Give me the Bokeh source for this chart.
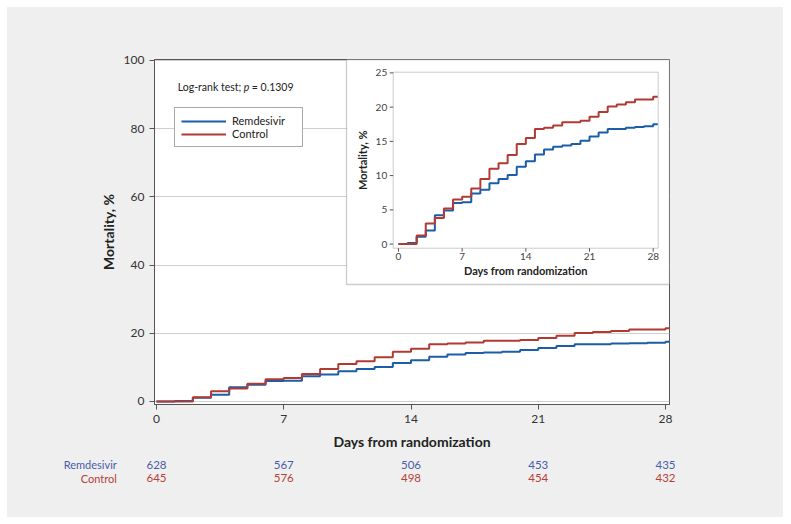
import math
from bokeh.plotting import figure
from bokeh.layouts import column
from bokeh.models import Range1d, Label, Legend, BoxAnnotation, FixedTicker
from bokeh.core.properties import value
from bokeh.embed import file_html
from bokeh.resources import INLINE

# ---------------- data ----------------
DAYS = list(range(29)) + [28.5]          # day of event; 28.5 = end of follow-up
REMDESIVIR = [0, 0.15, 1.07, 2.0, 4.2, 4.9, 6.0, 6.1, 7.4, 7.95, 8.9, 9.5, 10.1, 11.3,
              12.1, 13.1, 13.8, 14.2, 14.4, 14.6, 15.1, 15.7, 16.3, 16.8, 16.8, 17.0,
              17.1, 17.2, 17.5, 17.5]
CONTROL = [0, 0, 1.27, 3.0, 3.8, 5.2, 6.5, 6.9, 8.1, 9.5, 11.0, 11.8, 13.0, 14.6,
           15.5, 16.8, 17.0, 17.3, 17.8, 17.8, 18.0, 18.6, 19.3, 20.1, 20.4, 20.7,
           21.1, 21.1, 21.5, 21.5]
X_TICKS = [0, 7, 14, 21, 28]
MAIN_Y_TICKS = [0, 20, 40, 60, 80, 100]
INSET_Y_TICKS = [0, 5, 10, 15, 20, 25]
AT_RISK_REMDESIVIR = [628, 567, 506, 453, 435]
AT_RISK_CONTROL = [645, 576, 498, 454, 432]
SERIES_NAMES = ["Remdesivir", "Control"]
P_VALUE = "0.1309"

# ---------------- style ----------------
FONT = "Lato"
BLUE = "#1b5ea7"
RED = "#b23a33"
BLUE_TXT = "#4a5ca8"
RED_TXT = "#b5413a"
AXIS = "#555555"
BG = "#eeefee"

W = 776
BL, BR, BT, BB = 147, 114, 52, 52
FW, FH = W - BL - BR, 345
H_MAIN = BT + FH + BB
H_RISK = 61

# main data ranges
MX = (-0.11, 28.22)
MY = (-0.88, 100.29)
PXD = FW / (MX[1] - MX[0])          # pixels per day
PYU = FH / (MY[1] - MY[0])          # pixels per % (main)

# inset: pixel box of its frame inside main frame (from frame top-left) and its data ranges
IN_L, IN_R, IN_T, IN_B = 238.7, 503.7, 12.7, 188.7
IX = (-0.58, 28.55)
IY = (-0.6, 25.1)
sxu = (IN_R - IN_L) / (IX[1] - IX[0])
syu = (IN_B - IN_T) / (IY[1] - IY[0])
ix_range = Range1d(IX[0] - IN_L / sxu, IX[1] + (FW - IN_R) / sxu)
iy_range = Range1d(IY[0] - (FH - IN_B) / syu, IY[1] + IN_T / syu)
BOX_L, BOX_B = 192, 225               # white inset panel edges (px from frame left / top)
box_left = ix_range.start + BOX_L / sxu
box_bottom = iy_range.end - BOX_B / syu

p = figure(width=W, height=H_MAIN, x_range=Range1d(*MX), y_range=Range1d(*MY),
           output_backend="svg", toolbar_location=None,
           min_border_left=BL, min_border_right=BR, min_border_top=BT, min_border_bottom=BB)
p.frame_align = False
p.extra_x_ranges = {"ix": ix_range}
p.extra_y_ranges = {"iy": iy_range}
p.border_fill_color = BG
p.background_fill_color = "white"
p.outline_line_color = AXIS
p.outline_line_width = 1

p.xgrid.visible = False
p.ygrid.grid_line_color = "#cfcfcf"
p.ygrid.grid_line_width = 1
p.xaxis.ticker = FixedTicker(ticks=X_TICKS)
p.yaxis.ticker = FixedTicker(ticks=MAIN_Y_TICKS)
for ax in (p.xaxis, p.yaxis):
    ax.axis_line_color = AXIS
    ax.major_tick_line_color = AXIS
    ax.minor_tick_line_color = None
    ax.major_tick_out = 5
    ax.major_tick_in = 0
    ax.major_label_text_font = FONT
    ax.major_label_text_font_size = "12px"
    ax.major_label_text_color = "#333333"
    ax.major_label_standoff = 5
    ax.axis_label_text_font = FONT
    ax.axis_label_text_font_style = "bold"
    ax.axis_label_text_font_size = "14px"
    ax.axis_label_text_color = "#222222"
p.yaxis.axis_label = "Mortality, %"
p.xaxis.axis_label = "Days from randomization"
p.yaxis.axis_label_standoff = 4
p.xaxis.axis_label_standoff = 7

# main curves
rb = p.step(DAYS, REMDESIVIR, mode="after", line_color=BLUE, line_width=2)
rr = p.step(DAYS, CONTROL, mode="after", line_color=RED, line_width=2)

# log-rank text
lx = MX[0] + 23.3 / PXD
ly = MY[1] - 27.5 / PYU
common = dict(x=lx, y=ly, text_font=FONT, text_font_size="10.5px", text_color="#222222",
              text_baseline="middle")
p.add_layout(Label(text="Log-rank test;", **common))
p.add_layout(Label(text="p", x_offset=66, text_font_style="italic", **common))
p.add_layout(Label(text="= " + P_VALUE, x_offset=74, **common))

legend = Legend(items=[(SERIES_NAMES[0], [rb]), (SERIES_NAMES[1], [rr])],
                location=(20, FH - 88),
                border_line_color=AXIS, border_line_width=1,
                background_fill_color="white", background_fill_alpha=1,
                label_text_font=FONT, label_text_font_size="11px", label_text_color="#222222",
                glyph_width=45, glyph_height=12, label_height=12, label_width=64,
                label_standoff=6, padding=6, spacing=0, margin=0)
p.add_layout(legend)

# ---------------- inset ----------------
p.add_layout(BoxAnnotation(left=box_left, bottom=box_bottom, x_range_name="ix", y_range_name="iy",
                           fill_color="white", fill_alpha=1, line_color=AXIS, line_width=1.3))
ins = dict(x_range_name="ix", y_range_name="iy", level="overlay")
p.step(DAYS, REMDESIVIR, mode="after", line_color=BLUE, line_width=2, **ins)
p.step(DAYS, CONTROL, mode="after", line_color=RED, line_width=2, **ins)
p.add_layout(BoxAnnotation(left=IX[0], right=IX[1], bottom=IY[0], top=IY[1],
                           x_range_name="ix", y_range_name="iy", level="overlay",
                           fill_alpha=0, line_color=AXIS, line_width=1))
tx = 3.5 / sxu
ty = 3.5 / syu
p.segment(x0=[IX[0] - tx] * len(INSET_Y_TICKS), y0=INSET_Y_TICKS,
          x1=[IX[0]] * len(INSET_Y_TICKS), y1=INSET_Y_TICKS, line_color=AXIS, line_width=1, **ins)
p.segment(x0=X_TICKS, y0=[IY[0] - ty] * len(X_TICKS), x1=X_TICKS, y1=[IY[0]] * len(X_TICKS),
          line_color=AXIS, line_width=1, **ins)
p.text(x=[IX[0] - 6 / sxu] * len(INSET_Y_TICKS), y=INSET_Y_TICKS,
       text=[str(v) for v in INSET_Y_TICKS], text_align="right", text_baseline="middle",
       text_font=value(FONT), text_font_size="10px", text_color="#444444", **ins)
p.text(x=X_TICKS, y=[IY[0] - 4.5 / syu] * len(X_TICKS),
       text=[str(v) for v in X_TICKS], text_align="center", text_baseline="top",
       text_font=value(FONT), text_font_size="10px", text_color="#444444", **ins)
p.text(x=[IX[0] - 31 / sxu], y=[(IY[0] + IY[1]) / 2], text=["Mortality, %"], angle=math.pi / 2,
       text_align="center", text_baseline="middle", text_font=value(FONT),
       text_font_size="11px", text_font_style="bold", text_color="#222222", **ins)
p.text(x=[(IX[0] + IX[1]) / 2], y=[IY[0] - 22.5 / syu], text=["Days from randomization"],
       text_align="center", text_baseline="middle", text_font=value(FONT),
       text_font_size="11px", text_font_style="bold", text_color="#222222", **ins)

# ---------------- numbers at risk (second figure, same day scale) ----------------
ROW_PX = [8, 21.7]                     # row centres, px from top of this panel
row_gap = ROW_PX[1] - ROW_PX[0]
rx = Range1d(MX[0] - BL / PXD, MX[1] + BR / PXD)
ry = Range1d(0 - (H_RISK - ROW_PX[1]) / row_gap, 1 + ROW_PX[0] / row_gap)
q = figure(width=W, height=H_RISK, x_range=rx, y_range=ry, output_backend="svg",
           toolbar_location=None, x_axis_location=None, y_axis_location=None,
           min_border_left=0, min_border_right=0, min_border_top=0, min_border_bottom=0)
q.frame_align = False
q.grid.visible = False
q.outline_line_color = None
q.background_fill_color = BG
q.border_fill_color = BG
n = len(X_TICKS)
q.text(x=X_TICKS, y=[1] * n, text=[str(v) for v in AT_RISK_REMDESIVIR],
       text_align="center", text_baseline="middle", text_font=value(FONT),
       text_font_size="11.5px", text_color=BLUE_TXT)
q.text(x=X_TICKS, y=[0] * n, text=[str(v) for v in AT_RISK_CONTROL],
       text_align="center", text_baseline="middle", text_font=value(FONT),
       text_font_size="11.5px", text_color=RED_TXT)
name_x = MX[0] - (154 - 116.3) / PXD
q.text(x=[name_x, name_x], y=[1, 0], text=SERIES_NAMES, text_align="right",
       text_baseline="middle", text_font=value(FONT), text_font_size="11px",
       text_color=[BLUE_TXT, RED_TXT])

layout = column(p, q, spacing=0, margin=(7, 0, 0, 7), styles={"background-color": BG})
open("out.html", "w").write(file_html(layout, INLINE))
